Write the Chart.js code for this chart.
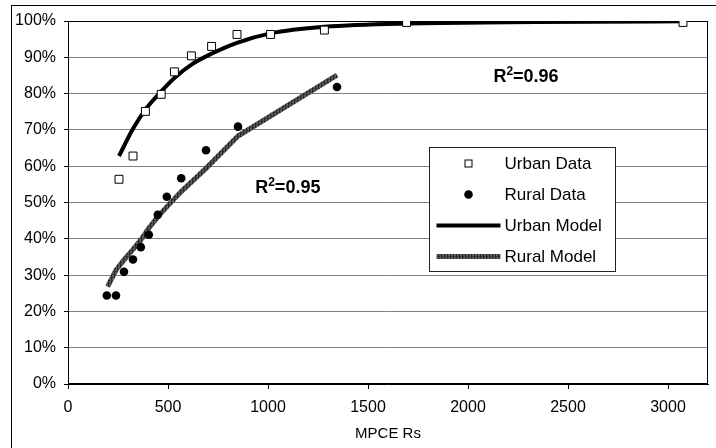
<!DOCTYPE html>
<html>
<head>
<meta charset="utf-8">
<script src="https://cdn.jsdelivr.net/npm/chart.js@4.4.1/dist/chart.umd.min.js"></script>
<style>
  html, body { margin: 0; padding: 0; background: #fff; }
  #wrap { width: 716px; height: 448px; }
</style>
</head>
<body>
<div id="wrap"><canvas id="c" width="716" height="448"></canvas></div>
<script>
// Observed share (%) against monthly per-capita expenditure (Rs)
const urbanX     = [255, 325, 387, 466, 532, 617, 718, 845, 1013, 1282, 1693, 3075];
const urbanY     = [56.4, 62.8, 75.1, 79.8, 86.0, 90.4, 93.0, 96.3, 96.3, 97.5, 99.6, 99.6];
const ruralX     = [194, 240, 280, 325, 364, 404, 449, 494, 566, 690, 850, 1345];
const ruralY     = [24.4, 24.4, 30.9, 34.3, 37.7, 41.1, 46.6, 51.6, 56.7, 64.4, 70.9, 81.8];

// Fitted model curves
const urbanModelX = [255, 325, 387, 466, 532, 617, 718, 845, 1013, 1282, 1693, 3075];
const urbanModelY = [62.8, 70.3, 75.6, 80.6, 84.3, 88.0, 91.0, 94.0, 96.6, 98.4, 99.3, 99.9];
const ruralModelX = [198, 240, 280, 325, 364, 404, 449, 494, 566, 690, 850, 1345];
const ruralModelY = [26.8, 31.4, 34.2, 37.1, 39.7, 42.9, 46.1, 48.8, 53.0, 59.4, 68.3, 85.1];

const xTicks = [0, 500, 1000, 1500, 2000, 2500, 3000];
const yTicks = [0, 10, 20, 30, 40, 50, 60, 70, 80, 90, 100];

const fitLabels = [
  { text: 'R', sup: '2', rest: '=0.96', x: 2127, y: 83.3 },
  { text: 'R', sup: '2', rest: '=0.95', x: 936, y: 52.5 }
];

const FONT = '"Liberation Sans", Arial, sans-serif';

function zip(xs, ys) { return xs.map((x, i) => ({ x: x, y: ys[i] })); }

// Hatched stroke used for the rural model line
function hatch() {
  const p = document.createElement('canvas');
  p.width = 3; p.height = 3;
  const g = p.getContext('2d');
  g.fillStyle = '#5a5a5a';
  g.fillRect(0, 0, 3, 3);
  g.fillStyle = '#262626';
  g.fillRect(0, 0, 1, 3);
  g.fillRect(1, 1, 1, 1);
  return document.getElementById('c').getContext('2d').createPattern(p, 'repeat');
}
const ruralStroke = hatch();

const frame = {
  id: 'frame',
  beforeDraw(chart) {
    const ctx = chart.ctx;
    ctx.save();
    ctx.fillStyle = '#fff';
    ctx.fillRect(0, 0, chart.width, chart.height);
    ctx.strokeStyle = '#000';
    ctx.lineWidth = 1;
    ctx.strokeRect(11.5, 5.5, chart.width + 10, chart.height + 10);
    ctx.restore();
  },
  beforeDatasetsDraw(chart) {
    const a = chart.chartArea, ctx = chart.ctx;
    ctx.save();
    ctx.strokeStyle = '#000';
    ctx.lineWidth = 1;
    ctx.strokeRect(Math.round(a.left) + 0.5, Math.round(a.top) + 0.5,
                   Math.round(a.right - a.left) - 1, Math.round(a.bottom - a.top) - 1);
    ctx.restore();
  }
};

const notes = {
  id: 'notes',
  afterDatasetsDraw(chart) {
    const ctx = chart.ctx, sx = chart.scales.x, sy = chart.scales.y;
    ctx.save();
    ctx.fillStyle = '#000';
    ctx.textBaseline = 'alphabetic';
    fitLabels.forEach(l => {
      let px = sx.getPixelForValue(l.x), py = sy.getPixelForValue(l.y);
      ctx.font = 'bold 18px ' + FONT;
      ctx.fillText(l.text, px, py);
      px += ctx.measureText(l.text).width;
      ctx.font = 'bold 12px ' + FONT;
      ctx.fillText(l.sup, px, py - 7);
      px += ctx.measureText(l.sup).width;
      ctx.font = 'bold 18px ' + FONT;
      ctx.fillText(l.rest, px, py);
    });
    ctx.restore();
  }
};

const keyBox = {
  id: 'keyBox',
  afterDatasetsDraw(chart) {
    const ctx = chart.ctx, a = chart.chartArea;
    const w = a.right - a.left, h = a.bottom - a.top;
    const left = Math.round(a.left + 0.5635 * w) + 0.5;
    const top = Math.round(a.top + 0.347 * h) + 0.5;
    const bw = 186, bh = 124;
    ctx.save();
    ctx.fillStyle = '#fff';
    ctx.fillRect(left, top, bw, bh);
    ctx.strokeStyle = '#222';
    ctx.lineWidth = 1;
    ctx.strokeRect(left, top, bw, bh);
    const symX = left + 39, l0 = left + 7, l1 = left + 71, tx = left + 75;
    chart.data.datasets.forEach((ds, i) => {
      const cy = top + 16 + i * 31;
      if (ds.showLine) {
        ctx.strokeStyle = ds.borderColor;
        ctx.lineWidth = ds.borderWidth;
        ctx.lineCap = 'butt';
        ctx.beginPath();
        ctx.moveTo(l0, cy); ctx.lineTo(l1, cy);
        ctx.stroke();
      } else if (ds.pointStyle === 'rect') {
        ctx.fillStyle = '#fff';
        ctx.strokeStyle = '#000';
        ctx.lineWidth = 1;
        ctx.fillRect(symX - 4, cy - 4, 8, 8);
        ctx.strokeRect(symX - 3.5, cy - 3.5, 7, 7);
      } else {
        ctx.fillStyle = '#000';
        ctx.beginPath();
        ctx.arc(symX, cy, 4.3, 0, Math.PI * 2);
        ctx.fill();
      }
      ctx.fillStyle = '#000';
      ctx.font = '17px ' + FONT;
      ctx.textBaseline = 'middle';
      ctx.fillText(ds.label, tx, cy + 1);
    });
    ctx.restore();
  }
};

new Chart(document.getElementById('c'), {
  type: 'scatter',
  data: {
    datasets: [
      {
        label: 'Urban Data',
        data: zip(urbanX, urbanY),
        pointStyle: 'rect',
        pointRadius: 5.6,
        backgroundColor: '#fff',
        borderColor: '#000',
        borderWidth: 1,
        showLine: false,
        order: 0
      },
      {
        label: 'Rural Data',
        data: zip(ruralX, ruralY),
        pointStyle: 'circle',
        pointRadius: 4.3,
        backgroundColor: '#000',
        borderColor: '#000',
        borderWidth: 0,
        showLine: false,
        order: 0
      },
      {
        label: 'Urban Model',
        data: zip(urbanModelX, urbanModelY),
        showLine: true,
        pointRadius: 0,
        borderColor: '#000',
        borderWidth: 4,
        cubicInterpolationMode: 'monotone',
        fill: false,
        order: 5
      },
      {
        label: 'Rural Model',
        data: zip(ruralModelX, ruralModelY),
        showLine: true,
        pointRadius: 0,
        borderColor: ruralStroke,
        borderWidth: 5,
        tension: 0,
        fill: false,
        order: 5
      }
    ]
  },
  options: {
    responsive: false,
    animation: false,
    events: [],
    layout: { padding: { top: 21, right: 8, left: 0, bottom: 0 } },
    plugins: {
      legend: { display: false },
      tooltip: { enabled: false }
    },
    scales: {
      x: {
        type: 'linear',
        min: 0,
        max: 3200,
        afterFit(s) { s.height = 64; },
        afterBuildTicks(s) { s.ticks = xTicks.map(v => ({ value: v })); },
        ticks: {
          color: '#000',
          font: { family: FONT, size: 16 },
          padding: 9,
          maxRotation: 0,
          autoSkip: false,
          callback: v => String(v)
        },
        grid: { drawOnChartArea: false, tickLength: 5, tickColor: '#000' },
        border: { color: '#000', width: 1 },
        title: {
          display: true,
          text: 'MPCE Rs',
          color: '#000',
          font: { family: FONT, size: 15 },
          padding: { top: 0, bottom: 5 }
        }
      },
      y: {
        type: 'linear',
        min: 0,
        max: 100,
        afterFit(s) { s.width = 68; },
        afterBuildTicks(s) { s.ticks = yTicks.map(v => ({ value: v })); },
        ticks: {
          color: '#000',
          font: { family: FONT, size: 16 },
          padding: 8,
          callback: v => v + '%'
        },
        grid: { color: '#808080', lineWidth: 1, tickLength: 4, tickColor: '#000' },
        border: { color: '#000', width: 1 }
      }
    }
  },
  plugins: [frame, notes, keyBox]
});
</script>
</body>
</html>
